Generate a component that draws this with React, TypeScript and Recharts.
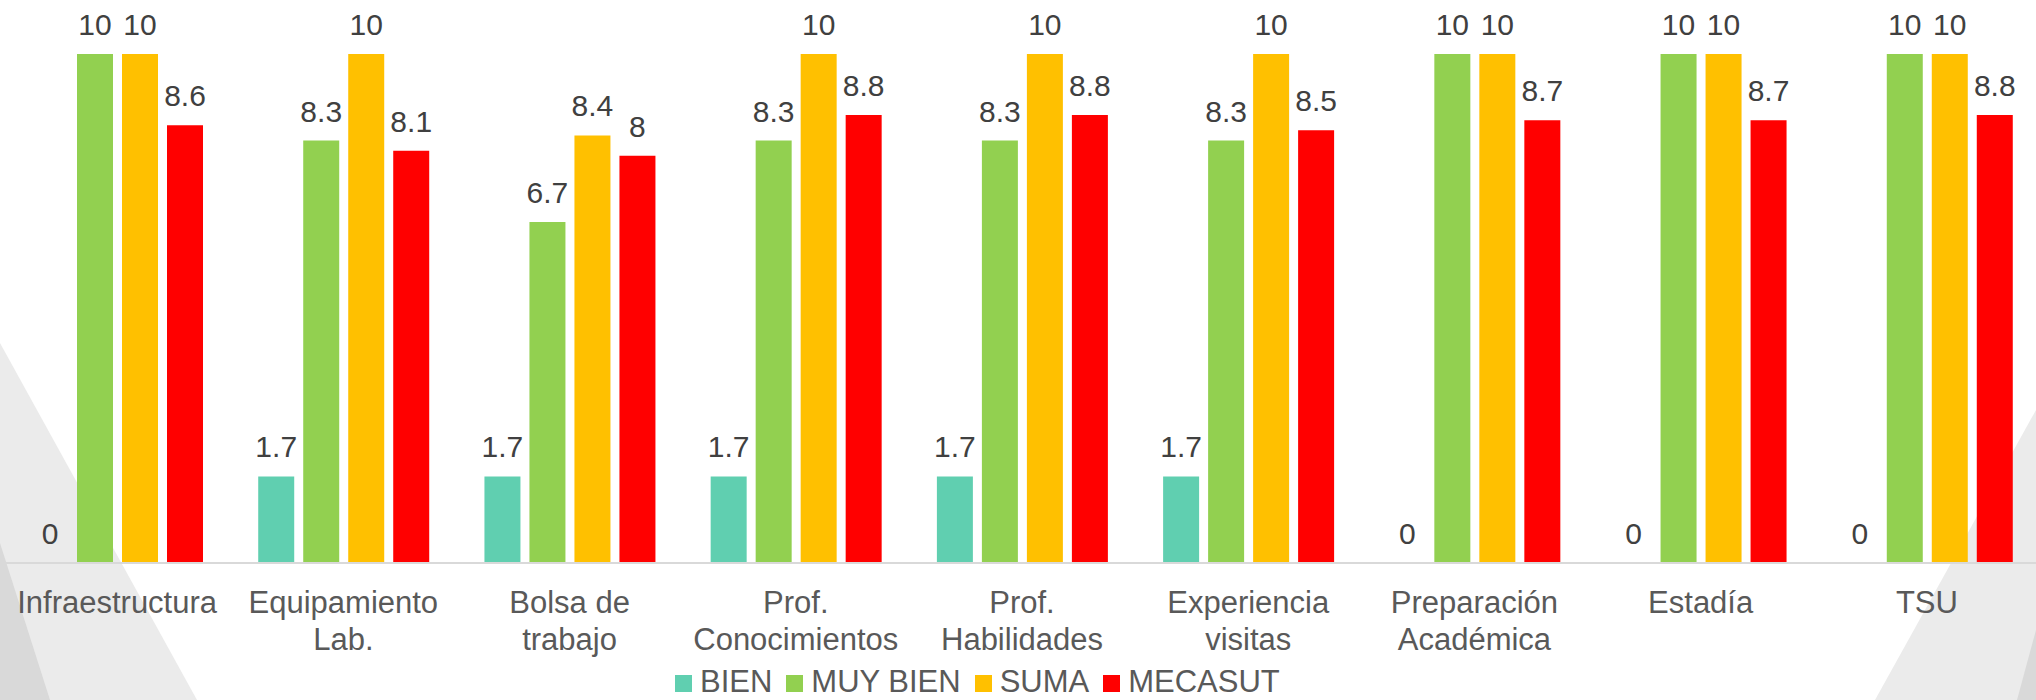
import { Bar, BarChart, LabelList, Legend, XAxis, YAxis } from "recharts"

const categories = [
  "Infraestructura",
  "Equipamiento Lab.",
  "Bolsa de trabajo",
  "Prof. Conocimientos",
  "Prof. Habilidades",
  "Experiencia visitas",
  "Preparación Académica",
  "Estadía",
  "TSU",
]

const bien = [0, 1.7, 1.7, 1.7, 1.7, 1.7, 0, 0, 0]
const muyBien = [10, 8.3, 6.7, 8.3, 8.3, 8.3, 10, 10, 10]
const suma = [10, 10, 8.4, 10, 10, 10, 10, 10, 10]
const mecasut = [8.6, 8.1, 8, 8.8, 8.8, 8.5, 8.7, 8.7, 8.8]

const series = [
  { key: "bien", name: "BIEN", color: "#60CFB0" },
  { key: "muyBien", name: "MUY BIEN", color: "#92D050" },
  { key: "suma", name: "SUMA", color: "#FFC000" },
  { key: "mecasut", name: "MECASUT", color: "#FF0000" },
]

const data = categories.map((name, i) => ({
  name,
  bien: bien[i],
  muyBien: muyBien[i],
  suma: suma[i],
  mecasut: mecasut[i],
}))

const FONT = '"Liberation Sans", Arial, sans-serif'

// etiqueta del eje en dos lineas (corte en el ultimo espacio)
function CategoryTick({ x, y, payload }: any) {
  const label: string = payload.value
  const cut = label.lastIndexOf(" ")
  const lines = cut > 0 ? [label.slice(0, cut), label.slice(cut + 1)] : [label]
  return (
    <text x={x} y={y} textAnchor="middle" fill="#595959" fontSize={31} fontFamily={FONT}>
      {lines.map((line, i) => (
        <tspan key={i} x={x} dy={i === 0 ? 50 : 37}>
          {line}
        </tspan>
      ))}
    </text>
  )
}

// etiqueta de valor, tambien para los ceros
function ValueLabel({ x, y, width, value }: any) {
  return (
    <text
      x={Number(x) + Number(width) / 2}
      y={Number(y) - 19}
      textAnchor="middle"
      fill="#404040"
      fontSize={30}
      fontFamily={FONT}
    >
      {String(value)}
    </text>
  )
}

function renderLegend() {
  return (
    <div style={{ display: "flex", alignItems: "flex-start", height: 0, overflow: "visible", fontFamily: FONT }}>
      {series.map((s) => (
        <div key={s.key} style={{ display: "flex", alignItems: "center", height: 26, marginRight: 14 }}>
          <span style={{ width: 17, height: 17, background: s.color, marginRight: 8, marginTop: 3 }} />
          <span style={{ fontSize: 31, lineHeight: "26px", color: "#595959", whiteSpace: "nowrap" }}>{s.name}</span>
        </div>
      ))}
    </div>
  )
}

export default function App() {
  return (
    <div
      style={{
        position: "absolute",
        left: 0,
        top: 0,
        width: 2036,
        height: 700,
        overflow: "hidden",
        background: "#fff",
        fontFamily: FONT,
      }}
    >
      <svg width={2036} height={700} style={{ position: "absolute", left: 0, top: 0 }}>
        <polygon points="0,343 197,700 0,700" fill="#EBEBEB" />
        <polygon points="0,543 50,700 0,700" fill="#D9D9D9" />
        <polygon points="2036,410 1875,700 2036,700" fill="#EBEBEB" />
        <polygon points="2036,630 2017,700 2036,700" fill="#D9D9D9" />
      </svg>
      <div style={{ position: "absolute", left: 0, top: 0 }}>
        <BarChart
          width={2044}
          height={700}
          data={data}
          margin={{ top: 54, right: 4, bottom: 37, left: 4 }}
          barSize={36}
          barGap={9}
        >
          <XAxis
            dataKey="name"
            interval={0}
            height={100}
            tickLine={false}
            tickSize={0}
            tickMargin={0}
            tick={<CategoryTick />}
            axisLine={{ stroke: "#D9D9D9", strokeWidth: 2 }}
          />
          <YAxis hide domain={[0, 10]} />
          <Legend
            content={renderLegend}
            wrapperStyle={{ position: "absolute", left: 675, top: 669, width: "auto", height: 0 }}
          />
          {series.map((s) => (
            <Bar
              key={s.key}
              dataKey={s.key}
              name={s.name}
              fill={s.color}
              minPointSize={0.01}
              isAnimationActive={false}
            >
              <LabelList dataKey={s.key} content={<ValueLabel />} />
            </Bar>
          ))}
        </BarChart>
      </div>
    </div>
  )
}
